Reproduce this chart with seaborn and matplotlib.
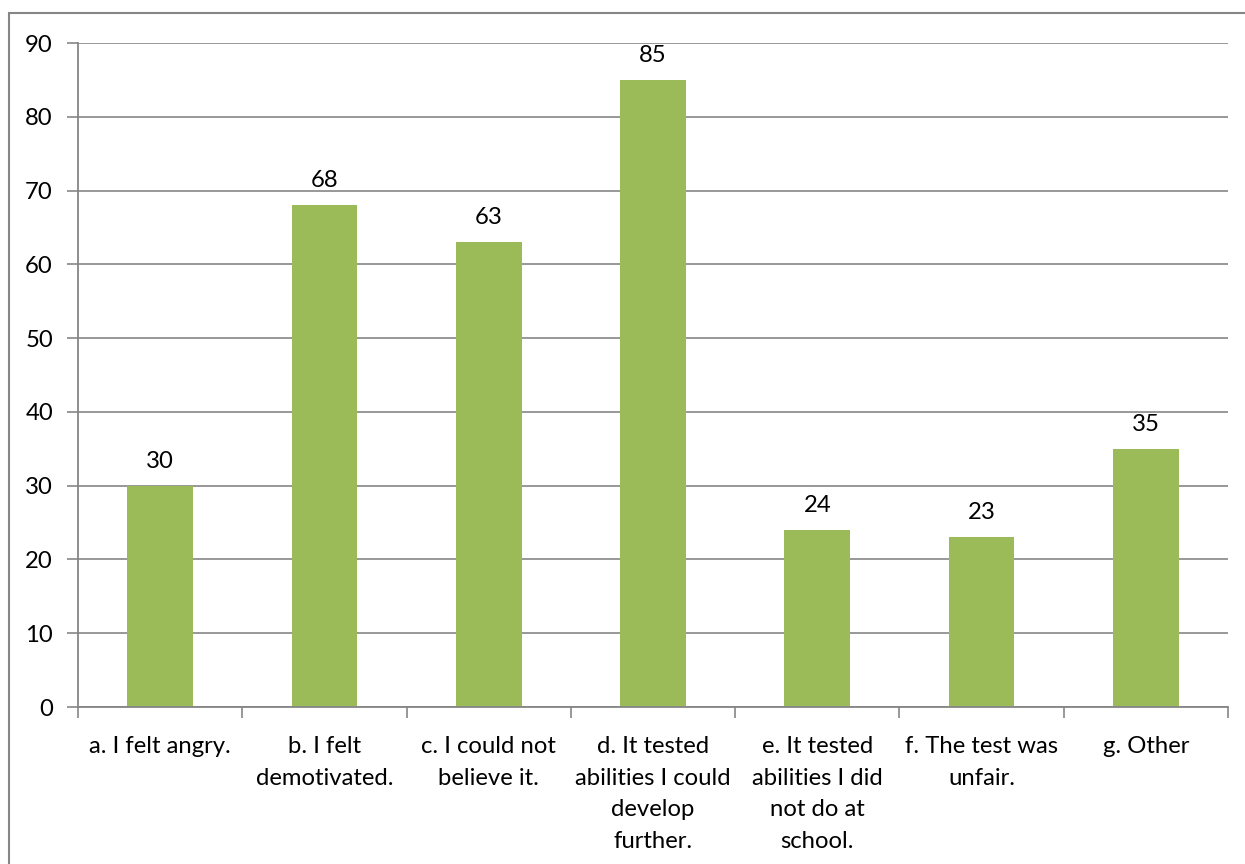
import matplotlib
matplotlib.use("Agg")
import matplotlib.pyplot as plt
import seaborn as sns
import pandas as pd
from matplotlib.patches import Rectangle

categories = [
    "a. I felt angry.",
    "b. I felt\ndemotivated.",
    "c. I could not\nbelieve it.",
    "d. It tested\nabilities I could\ndevelop\nfurther.",
    "e. It tested\nabilities I did\nnot do at\nschool.",
    "f. The test was\nunfair.",
    "g. Other",
]
counts = [30, 68, 63, 85, 24, 23, 35]
y_ticks = [0, 10, 20, 30, 40, 50, 60, 70, 80, 90]

sns.set_theme(style="white")
plt.rcParams["font.family"] = ["Lato", "DejaVu Sans"]
plt.rcParams["text.color"] = "black"
plt.rcParams["xtick.labelcolor"] = "black"
plt.rcParams["ytick.labelcolor"] = "black"

W, H = 1245, 864
FS = 17.2
fig = plt.figure(figsize=(W / 100, H / 100), dpi=100)
ax = fig.add_axes([78 / W, 1 - 707 / H, (1228 - 78) / W, (707 - 43) / H])

df = pd.DataFrame({"category": categories, "count": counts})
sns.barplot(data=df, x="category", y="count", color="#9BBB59", saturation=1,
            width=0.4, linewidth=0, ax=ax)

grid_c = "#868686"
ax.set_ylim(0, 90)
ax.set_xlim(-0.5, len(categories) - 0.5)
ax.set_yticks(y_ticks)
ax.yaxis.grid(True, color=grid_c, linewidth=1.2)
ax.set_axisbelow(True)
for side in ["top", "right"]:
    ax.spines[side].set_visible(False)
for side in ["left", "bottom"]:
    ax.spines[side].set_color(grid_c)
    ax.spines[side].set_linewidth(1.3)

ax.set_xlabel("")
ax.set_ylabel("")
ax.tick_params(axis="y", which="major", direction="out", length=8, width=1.2,
               color=grid_c, labelsize=FS, pad=10, left=True)
ax.tick_params(axis="x", which="major", length=0, labelsize=FS, pad=21)
ax.set_xticks(range(len(categories)))
ax.set_xticklabels(categories, linespacing=1.62, va="top")

# category separators below the axis
ax.set_xticks([i - 0.5 for i in range(len(categories) + 1)], minor=True)
ax.tick_params(axis="x", which="minor", direction="out", length=8, width=1.2,
               color=grid_c, bottom=True)

for c in ax.containers:
    ax.bar_label(c, labels=[str(v) for v in counts], padding=10, fontsize=FS)

# chart border
fig.patches.append(Rectangle((9 / W, -0.1), 1.2, 1 - 13 / H + 0.1,
                             transform=fig.transFigure, fill=False,
                             edgecolor=grid_c, linewidth=1.5, zorder=-1))

fig.savefig("out.png", dpi=100)
